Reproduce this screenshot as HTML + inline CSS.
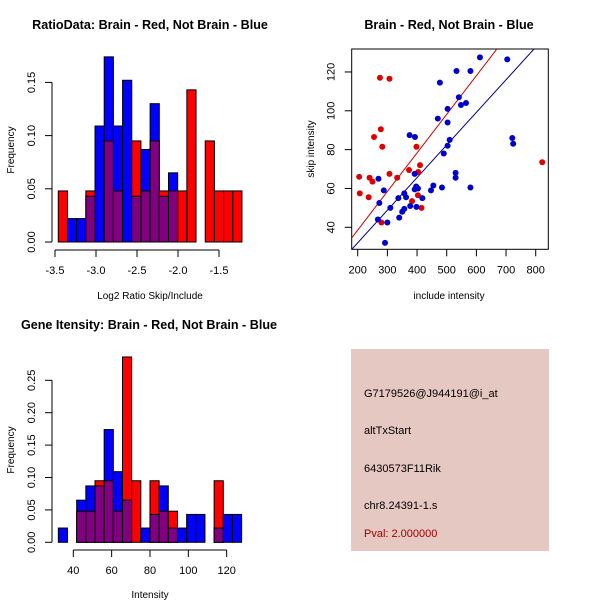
<!DOCTYPE html>
<html><head><meta charset="utf-8"><style>
body{margin:0;background:#fff}
svg{display:block;font-family:"Liberation Sans",sans-serif}
</style></head><body>
<svg id="c" width="600" height="600" viewBox="0 0 600 600">
<g id="p1"></g>
<g id="p2"></g>
<g id="p3"></g>
<g>
<rect x="351" y="349" width="198" height="202" fill="#e6c8c2"/>
<text x="364" y="397" font-size="11" fill="#000">G7179526@J944191@i_at</text>
<text x="364" y="434" font-size="11" fill="#000">altTxStart</text>
<text x="364" y="472" font-size="11" fill="#000">6430573F11Rik</text>
<text x="364" y="509" font-size="11" fill="#000">chr8.24391-1.s</text>
<text x="364" y="537" font-size="11" fill="#a00000">Pval: 2.000000</text>
</g>
</svg>
<script>
// Ratio histogram data
const ratioStart = -3.46;
const ratioBinWidth = 0.112;
const ratioRed  = [0.048,0,0,0.048,0,0.095,0.048,0,0.095,0.048,0.095,0.048,0.048,0.048,0.143,0,0.095,0.048,0.048,0.048];
const ratioBlue = [0,0.022,0.022,0.043,0.109,0.174,0.109,0.152,0.043,0.087,0.13,0.043,0.065,0,0,0,0,0,0,0];
const ratioXTicks = [-3.5,-3.0,-2.5,-2.0,-1.5];
const ratioXTickLabels = ["-3.5","-3.0","-2.5","-2.0","-1.5"];
const ratioYTicks = [0,0.05,0.10,0.15];
const ratioYTickLabels = ["0.00","0.05","0.10","0.15"];
// Gene intensity histogram data
const geneStart = 32.2;
const geneBinWidth = 4.78;
const geneRed  = [0,0,0.048,0.048,0.095,0.095,0.048,0.286,0.095,0,0.095,0.048,0.048,0,0,0,0,0.095,0,0];
const geneBlue = [0.022,0,0.065,0.087,0.087,0.174,0.109,0.065,0,0.022,0.043,0.087,0.022,0.022,0.043,0.043,0,0.022,0.043,0.043];
const geneXTicks = [40,60,80,100,120];
const geneXTickLabels = ["40","60","80","100","120"];
const geneYTicks = [0,0.05,0.10,0.15,0.20,0.25];
const geneYTickLabels = ["0.00","0.05","0.10","0.15","0.20","0.25"];
// Scatter data
const redInclude = [205,207,237,240,250,255,275,278,283,280,307,307,333,373,383,398,403,404,410,415,822];
const redSkip    = [66,57.5,55.5,65.5,63.5,86.5,117,90.5,81.5,42.5,116.5,67.5,65.5,69.5,53.5,81.5,56.5,68.5,72,50,73.5];
const blueInclude = [270,273,268,288,300,292,310,337,340,350,357,357,363,377,375,393,392,392,397,398,403,418,447,455,477,470,484,490,503,503,503,510,530,530,533,541,548,565,580,580,612,704,721,724];
const blueSkip    = [65,52.5,44,59,42.5,32,50,55,45,48,57.5,49.5,55.5,51,87.5,86.5,67.5,59.5,61,50.5,60,55,59,61.5,114.5,96,60.5,78,101,94,82,85,68,65.5,120.5,107,103,104,120.5,60.5,127.5,126.5,86,83];
const redFit = [-1.2, 0.1988];   // intercept, slope
const blueFit = [-1.6, 0.168];
const scXTicks = [200,300,400,500,600,700,800];
const scYTicks = [40,60,80,100,120];

const NS="http://www.w3.org/2000/svg";
function mk(parent,tag,attrs){const e=document.createElementNS(NS,tag);for(const k in attrs)e.setAttribute(k,attrs[k]);parent.appendChild(e);return e;}
function txt(parent,x,y,s,size,extra){const t=mk(parent,'text',Object.assign({x:x,y:y,'font-size':size,'text-anchor':'middle'},extra||{}));t.textContent=s;return t;}

function hist(g,o){
  const sx=v=>o.x0+(v-o.xv0)*o.xs, sy=v=>o.base-v*o.ys;
  for(let i=0;i<o.red.length;i++){
    const l=sx(o.start+i*o.bw), r=sx(o.start+(i+1)*o.bw), w=r-l;
    const rv=o.red[i], bv=o.blue[i], mn=Math.min(rv,bv), mx=Math.max(rv,bv);
    if(mx<=0) continue;
    const col=rv>bv?'#ff0000':'#0000ff';
    const b=mk(g,'rect',{x:l,y:sy(mx),width:w,height:sy(0)-sy(mx),fill:col,stroke:'#000','stroke-width':1});
    
    
    if(mn>0){const p=mk(g,'rect',{x:l,y:sy(mn),width:w,height:sy(0)-sy(mn),fill:'#800080',stroke:'#000','stroke-width':1});
      
      }
  }
  const ya=mk(g,'g',{});
  
  
  mk(ya,'line',{x1:o.yax,x2:o.yax,y1:sy(o.yt[0]),y2:sy(o.yt[o.yt.length-1]),stroke:'#000'});
  o.yt.forEach((v,i)=>{mk(ya,'line',{x1:o.yax-7,x2:o.yax,y1:sy(v),y2:sy(v),stroke:'#000'});
    const t=txt(ya,o.yax-21,sy(v)+4,o.ytl[i],11,{transform:`rotate(-90 ${o.yax-21} ${sy(v)})`});
    
    });
  const xa=mk(g,'g',{});
  
  
  mk(xa,'line',{x1:sx(o.xt[0]),x2:sx(o.xt[o.xt.length-1]),y1:o.xay,y2:o.xay,stroke:'#000'});
  o.xt.forEach((v,i)=>{mk(xa,'line',{x1:sx(v),x2:sx(v),y1:o.xay,y2:o.xay+7,stroke:'#000'});
    const t=txt(xa,sx(v),o.xay+24,o.xtl[i],11);
    
    });
}
const p1=document.getElementById('p1');
hist(p1,{x0:55,xv0:-3.5,xs:82,base:242,ys:1064,start:ratioStart,bw:ratioBinWidth,red:ratioRed,blue:ratioBlue,yax:52,yt:ratioYTicks,ytl:ratioYTickLabels,xay:250,xt:ratioXTicks,xtl:ratioXTickLabels});
let t;
t=txt(p1,150,29,'RatioData: Brain - Red, Not Brain - Blue',12.6,{'font-weight':'bold'});

t=txt(p1,150,299,'Log2 Ratio Skip/Include',10);

t=txt(p1,10,150,'Frequency',10,{transform:'rotate(-90 10 150)',dy:'4'});


const p3=document.getElementById('p3');
hist(p3,{x0:73.3,xv0:40,xs:1.917,base:542.3,ys:648,start:geneStart,bw:geneBinWidth,red:geneRed,blue:geneBlue,yax:52,yt:geneYTicks,ytl:geneYTickLabels,xay:550,xt:geneXTicks,xtl:geneXTickLabels});
t=txt(p3,149,329,'Gene Itensity: Brain - Red, Not Brain - Blue',12.6,{'font-weight':'bold'});

t=txt(p3,150,598,'Intensity',10);

t=txt(p3,10,450,'Frequency',10,{transform:'rotate(-90 10 450)',dy:'4'});


const p2=document.getElementById('p2');
const L=351.7,R=548.3,T=49,B=249.3;
const sx=v=>357.7+(v-200)*0.2967, sy=v=>227.3-(v-40)*1.9417;
const cp=mk(p2,'clipPath',{id:'clip'});mk(cp,'rect',{x:L,y:T,width:R-L,height:B-T});
const box=mk(p2,'rect',{x:L,y:T,width:R-L,height:B-T,fill:'none',stroke:'#000'});

const xmin=(L-357.7)/0.2967+200, xmax=(R-357.7)/0.2967+200;
[[redFit,'#cc0000','red-fit-line'],[blueFit,'#00008b','blue-fit-line']].forEach(([f,c,n])=>{
  const l=mk(p2,'line',{x1:sx(xmin),y1:sy(f[0]+f[1]*xmin),x2:sx(xmax),y2:sy(f[0]+f[1]*xmax),stroke:c,'clip-path':'url(#clip)'});
  });
redInclude.forEach((v,i)=>{const c=mk(p2,'circle',{cx:sx(v),cy:sy(redSkip[i]),r:3,fill:'#dd0000'});
  });
blueInclude.forEach((v,i)=>{const c=mk(p2,'circle',{cx:sx(v),cy:sy(blueSkip[i]),r:3,fill:'#0000cc'});
  });
scXTicks.forEach(v=>{mk(p2,'line',{x1:sx(v),x2:sx(v),y1:B,y2:B+7,stroke:'#000'});
  const t=txt(p2,sx(v),B+24,String(v),11);
  });
scYTicks.forEach(v=>{mk(p2,'line',{x1:L-7,x2:L,y1:sy(v),y2:sy(v),stroke:'#000'});
  const t=txt(p2,L-21,sy(v)+4,String(v),11,{transform:`rotate(-90 ${L-21} ${sy(v)})`});
  });
t=txt(p2,449,29,'Brain - Red, Not Brain - Blue',12.6,{'font-weight':'bold'});

t=txt(p2,449,299,'include intensity',10);

t=txt(p2,310,149,'skip intensity',10,{transform:'rotate(-90 310 149)',dy:'4'});

</script>
</body></html>
